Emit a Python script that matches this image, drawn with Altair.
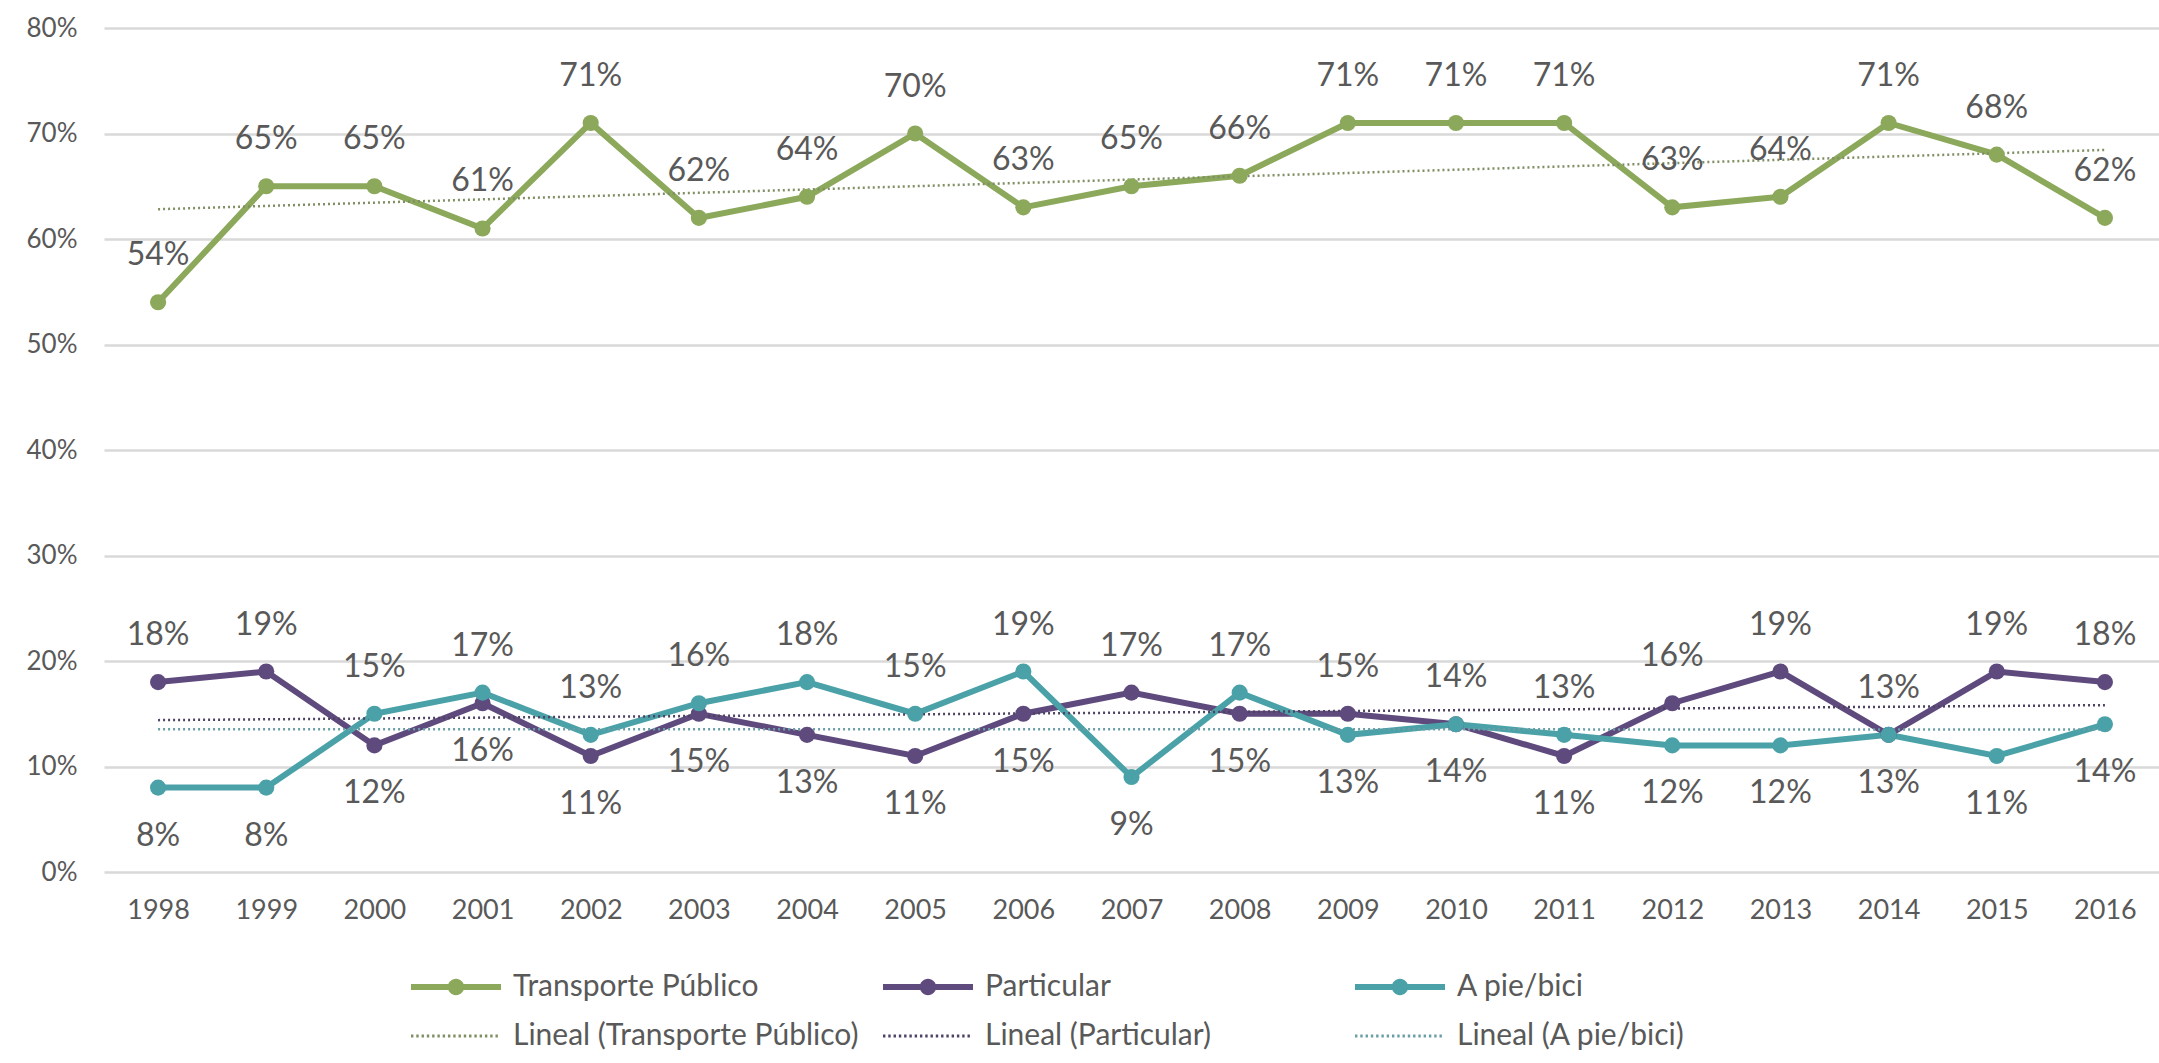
import altair as alt
import pandas as pd

years = list(range(1998, 2017))
transporte = [54, 65, 65, 61, 71, 62, 64, 70, 63, 65, 66, 71, 71, 71, 63, 64, 71, 68, 62]
particular = [18, 19, 12, 16, 11, 15, 13, 11, 15, 17, 15, 15, 14, 11, 16, 19, 13, 19, 18]
a_pie = [8, 8, 15, 17, 13, 16, 18, 15, 19, 9, 17, 13, 14, 13, 12, 12, 13, 11, 14]
series_names = ["Transporte Público", "Particular", "A pie/bici"]
trend_names = ["Lineal (Transporte Público)", "Lineal (Particular)", "Lineal (A pie/bici)"]
y_ticks = [0, 0.1, 0.2, 0.3, 0.4, 0.5, 0.6, 0.7, 0.8]

line_colors = ["#8BA85B", "#5F4A7E", "#4AA2A8"]
trend_colors = ["#7F8F63", "#4E4262", "#6A9EA6"]

rows = []
for i, yr in enumerate(years):
    rows.append({"year": yr, "series": series_names[0], "pct": transporte[i] / 100, "side": "above"})
    p, a = particular[i], a_pie[i]
    rows.append({"year": yr, "series": series_names[1], "pct": p / 100, "side": "above" if p >= a else "below"})
    rows.append({"year": yr, "series": series_names[2], "pct": a / 100, "side": "above" if a > p else "below"})
df = pd.DataFrame(rows)

all_names = series_names + trend_names
all_colors = line_colors + trend_colors

# legend symbol paths (1 unit = half the symbol box); they reach out to the right
X0, X1 = -1.0, 2.75
XM = (X0 + X1) / 2
line_dot = (f"M{X0},-0.125L{X1},-0.125L{X1},0.125L{X0},0.125Z "
            f"M{XM-0.34},0A0.34,0.34 0 1,1 {XM+0.34},0A0.34,0.34 0 1,1 {XM-0.34},0Z")
dots = []
x = X0
while x < X1 - 0.05:
    dots.append(f"M{x:.3f},-0.06L{x+0.1:.3f},-0.06L{x+0.1:.3f},0.06L{x:.3f},0.06Z")
    x += 0.22
dotted = " ".join(dots)
shape_range = [line_dot] * 3 + [dotted] * 3

FONT = "Lato"
GRAY = "#595959"

x_enc = alt.X("year:Q", scale=alt.Scale(domain=[1997.5, 2016.5], nice=False, zero=False),
              axis=alt.Axis(values=years, format="d", title=None, grid=False, domain=False,
                            ticks=False, labelFontSize=27, labelColor=GRAY, labelFont=FONT,
                            labelPadding=25, labelFlush=False))
y_enc = alt.Y("pct:Q", scale=alt.Scale(domain=[0, 0.8], nice=False),
              axis=alt.Axis(values=y_ticks, format=".0%", title=None, domain=False, ticks=False,
                            grid=True, gridColor="#D9D9D9", gridWidth=2.5, labelFontSize=26,
                            labelColor=GRAY, labelFont=FONT, labelPadding=27))

color_scale = alt.Scale(domain=all_names, range=all_colors)

base = alt.Chart(df)

lines = base.mark_line(strokeWidth=6).encode(
    x=x_enc, y=y_enc, color=alt.Color("series:N", scale=color_scale, legend=None),
    detail="series:N")

trend = base.transform_regression(
    "year", "pct", groupby=["series"]
).transform_calculate(
    trend='"Lineal (" + datum.series + ")"'
).mark_line(strokeWidth=2.5, strokeDash=[2, 3]).encode(
    x="year:Q", y="pct:Q",
    color=alt.Color("trend:N", scale=color_scale, legend=None))

points = base.mark_point(filled=True, size=260, opacity=1, shape="circle").encode(
    x="year:Q", y="pct:Q", color=alt.Color("series:N", scale=color_scale, legend=None))

labels_above = base.transform_filter("datum.side == 'above'").mark_text(
    dy=-47, fontSize=32, font=FONT, color=GRAY, baseline="middle", align="center"
).encode(x="year:Q", y="pct:Q", text=alt.Text("pct:Q", format=".0%"))

labels_below = base.transform_filter("datum.side == 'below'").mark_text(
    dy=48, fontSize=32, font=FONT, color=GRAY, baseline="middle", align="center"
).encode(x="year:Q", y="pct:Q", text=alt.Text("pct:Q", format=".0%"))

legend = alt.Legend(title=None, orient="none", legendX=307, legendY=935, direction="horizontal",
                    columns=3, gridAlign="all", columnPadding=24, rowPadding=10,
                    symbolSize=2304, symbolStrokeWidth=0, labelFontSize=30, labelFont=FONT,
                    labelColor=GRAY, labelOffset=54, labelLimit=600)

legend_layer = base.transform_filter("false").mark_point(filled=True, opacity=1).encode(
    x="year:Q", y="pct:Q",
    color=alt.Color("series:N", scale=alt.Scale(domain=all_names, range=all_colors), legend=legend),
    shape=alt.Shape("series:N", scale=alt.Scale(domain=all_names, range=shape_range), legend=legend))

chart = alt.layer(lines, trend, points, labels_above, labels_below, legend_layer).resolve_scale(
    color="independent", shape="independent"
).properties(
    width=2055, height=844,
    padding={"left": 104, "top": 28, "right": 0, "bottom": 191},
    autosize=alt.AutoSizeParams(type="none"),
    background="white",
).configure_view(stroke=None)

chart.save("out.html", embed_options={"renderer": "svg", "actions": False})
